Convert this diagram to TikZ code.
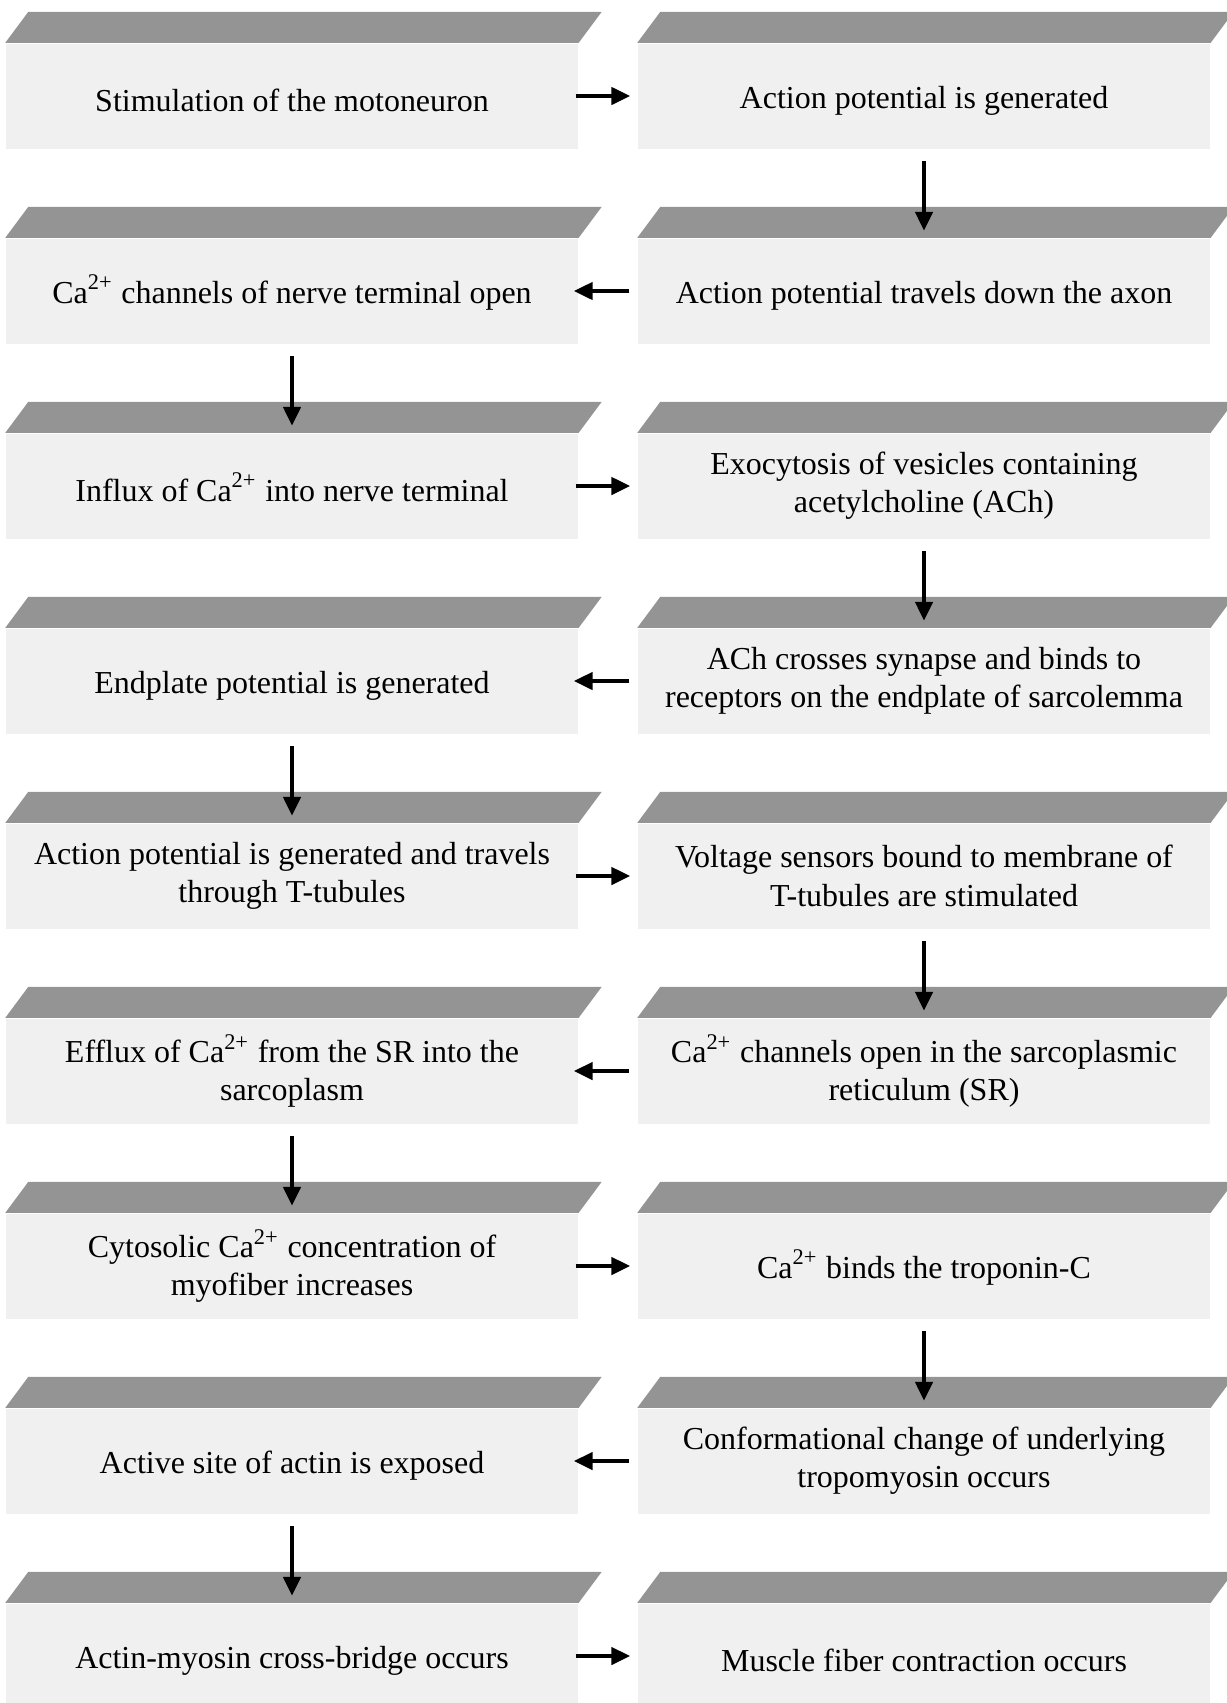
\documentclass[tikz,border=0pt]{standalone}
\usepackage{fontspec}
\setmainfont{Liberation Serif}
\usetikzlibrary{arrows.meta}

\begin{document}
\begin{tikzpicture}[
		step box/.style={rectangle,fill=black!6,inner sep=0pt,minimum width=5.72cm,minimum height=1.05cm,align=center,
			font=\fontsize{9.1}{10.9}\selectfont,execute at begin node={\rule{0pt}{0.31cm}}},
		slab/.style={fill=black!42},
		flow/.style={line width=0.045cm,-{Triangle[length=0.19cm,width=0.17cm]}},
		toright/.style={flow,shorten <=-0.03cm,shorten >=0.07cm},
		toleft/.style={flow,shorten <=0.08cm,shorten >=-0.05cm},
		todown/.style={flow,shorten <=0.12cm,shorten >=0.07cm}]
				\useasboundingbox (0,0) rectangle (12.26,-17.03);
				\node[step box] (A) at (2.92,-0.96) {Stimulation of the motoneuron};
				\node[step box] (B) at (9.24,-0.96) {Action potential is generated};
				\node[step box] (C) at (9.24,-2.91) {Action potential travels down the axon};
				\node[step box] (D) at (2.92,-2.91) {Ca\textsuperscript{2+} channels of nerve terminal open};
				\node[step box] (E) at (2.92,-4.86) {Influx of Ca\textsuperscript{2+} into nerve terminal};
				\node[step box] (F) at (9.24,-4.86) {Exocytosis of vesicles containing\\acetylcholine (ACh)};
				\node[step box] (G) at (9.24,-6.81) {ACh crosses synapse and binds to\\receptors on the endplate of sarcolemma};
				\node[step box] (H) at (2.92,-6.81) {Endplate potential is generated};
				\node[step box] (I) at (2.92,-8.76) {Action potential is generated and travels\\through T-tubules};
				\node[step box] (J) at (9.24,-8.76) {Voltage sensors bound to membrane of\\T-tubules are stimulated};
				\node[step box] (K) at (9.24,-10.71) {Ca\textsuperscript{2+} channels open in the sarcoplasmic\\reticulum (SR)};
				\node[step box] (L) at (2.92,-10.71) {Efflux of Ca\textsuperscript{2+} from the SR into the\\sarcoplasm};
				\node[step box] (M) at (2.92,-12.66) {Cytosolic Ca\textsuperscript{2+} concentration of\\myofiber increases};
				\node[step box] (N) at (9.24,-12.66) {Ca\textsuperscript{2+} binds the troponin-C};
				\node[step box] (O) at (9.24,-14.61) {Conformational change of underlying\\tropomyosin occurs};
				\node[step box] (P) at (2.92,-14.61) {Active site of actin is exposed};
				\node[step box] (Q) at (2.92,-16.56) {Actin-myosin cross-bridge occurs};
				\node[step box] (R) at (9.24,-16.56) {Muscle fiber contraction occurs};
				% top faces
				\foreach \n in {A,...,R}
					\fill[slab] (\n.north west) -- ([shift={(0.23,0.31)}]\n.north west)
						-- ([shift={(0.23,0.31)}]\n.north east) -- (\n.north east) -- cycle;
				\draw[toright] (A) -- (B);
				\draw[todown] (B) -- (C);
				\draw[toleft] (C) -- (D);
				\draw[todown] (D) -- (E);
				\draw[toright] (E) -- (F);
				\draw[todown] (F) -- (G);
				\draw[toleft] (G) -- (H);
				\draw[todown] (H) -- (I);
				\draw[toright] (I) -- (J);
				\draw[todown] (J) -- (K);
				\draw[toleft] (K) -- (L);
				\draw[todown] (L) -- (M);
				\draw[toright] (M) -- (N);
				\draw[todown] (N) -- (O);
				\draw[toleft] (O) -- (P);
				\draw[todown] (P) -- (Q);
				\draw[toright] (Q) -- (R);
			\end{tikzpicture}
\end{document}
